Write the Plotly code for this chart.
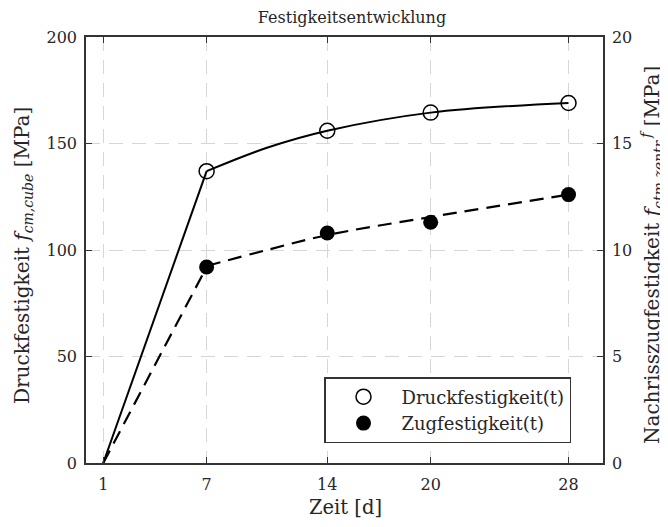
import plotly.graph_objects as go

zeit = [7, 14, 20, 28]
druck = [137, 156, 164.5, 169]
zug = [9.2, 10.8, 11.3, 12.6]
start_t = 1
start_v = 0
# fitted curves
fit_t = [7, 10.5, 14, 20, 28]
druck_fit = [137, 148, 156, 164.5, 169]
zug_fit = [9.25, 10.0, 10.7, 11.55, 12.6]
xticks = [1, 7, 14, 20, 28]
yticks_l = [0, 50, 100, 150, 200]
yticks_r = [0, 5, 10, 15, 20]

FONT = "DejaVu Serif"
TXT = "#262626"

# page offset (body margin) and plot area in page pixels
OFF = 8
W, H = 668 - OFF, 527 - OFF
L, R, T, B = 86 - OFF, 603 - OFF, 37 - OFF, 463 - OFF


def px(x):
    return (x - OFF - L) / (R - L)


def py(y):
    return (B - (y - OFF)) / (B - T)


fig = go.Figure()
fig.add_trace(go.Scatter(x=[start_t, zeit[0]], y=[start_v, druck[0]], mode="lines",
                         line=dict(color="black", width=2), showlegend=False, hoverinfo="skip"))
fig.add_trace(go.Scatter(x=fit_t, y=druck_fit, mode="lines",
                         line=dict(color="black", width=2, shape="spline", smoothing=1.0),
                         showlegend=False, hoverinfo="skip"))
fig.add_trace(go.Scatter(x=[start_t, zeit[0]], y=[start_v, zug[0]], mode="lines", yaxis="y2",
                         line=dict(color="black", width=2.2, dash="14px,8px"), showlegend=False, hoverinfo="skip"))
fig.add_trace(go.Scatter(x=fit_t, y=zug_fit, mode="lines", yaxis="y2",
                         line=dict(color="black", width=2.2, dash="14px,8px", shape="spline", smoothing=1.0),
                         showlegend=False, hoverinfo="skip"))
fig.add_trace(go.Scatter(x=zeit, y=druck, mode="markers", name="Druckfestigkeit(t)",
                         marker=dict(symbol="circle-open", size=15, color="black", line=dict(width=1.5))))
fig.add_trace(go.Scatter(x=zeit, y=zug, mode="markers", name="Zugfestigkeit(t)", yaxis="y2",
                         marker=dict(symbol="circle", size=15, color="black")))

axcommon = dict(showline=True, linecolor="#333", linewidth=1.5, ticks="inside", ticklen=6,
                tickcolor="#333", showgrid=True, gridcolor="#d6d6d6", griddash="14px,9px", gridwidth=1,
                zeroline=False, automargin=False,
                tickfont=dict(family=FONT, size=16, color=TXT))

fig.update_layout(
    width=W, height=H,
    margin=dict(l=L, r=W - R, t=T, b=H - B, autoexpand=False),
    paper_bgcolor="white", plot_bgcolor="white",
    font=dict(family=FONT, color=TXT),
    title=dict(text="Festigkeitsentwicklung", x=(352 - OFF) / W, xref="container", xanchor="center",
               y=1 - (17 - OFF) / H, yref="container", yanchor="middle",
               font=dict(family=FONT, size=16, color=TXT)),
    xaxis=dict(range=[0, 30], tickvals=xticks, mirror="ticks", ticklabelstandoff=6, tickangle=0, **axcommon),
    yaxis=dict(range=[0, 200], tickvals=yticks_l, mirror=True, ticklabelstandoff=4, **axcommon),
    yaxis2=dict(range=[0, 20], tickvals=yticks_r, overlaying="y", side="right", ticklabelstandoff=4,
                **{**axcommon, "showgrid": False}),
    legend=dict(x=px(324), y=py(377), xref="paper", yref="paper",
                xanchor="left", yanchor="top", bgcolor="white",
                bordercolor="#333", borderwidth=1.5,
                font=dict(family=FONT, size=18, color=TXT), itemwidth=66, tracegroupgap=0),
    annotations=[
        dict(text="Zeit [d]", x=px(345), y=py(507), xref="paper", yref="paper",
             showarrow=False, xanchor="center", yanchor="middle",
             font=dict(family=FONT, size=19.5, color=TXT)),
        dict(text="Druckfestigkeit <i>f</i><sub><i>cm,cube</i></sub> [MPa]",
             x=px(23), y=py(256), xref="paper", yref="paper", textangle=-90,
             showarrow=False, xanchor="center", yanchor="middle",
             font=dict(family=FONT, size=20, color=TXT)),
        dict(text="Nachrisszugfestigkeit <i>f</i><sub><i>ctm,zentr.</i></sub><sup><i>f</i></sup> [MPa]",
             x=px(652), y=py(255), xref="paper", yref="paper", textangle=-90,
             showarrow=False, xanchor="center", yanchor="middle",
             font=dict(family=FONT, size=20, color=TXT)),
    ],
)

fig.write_html("out.html")
